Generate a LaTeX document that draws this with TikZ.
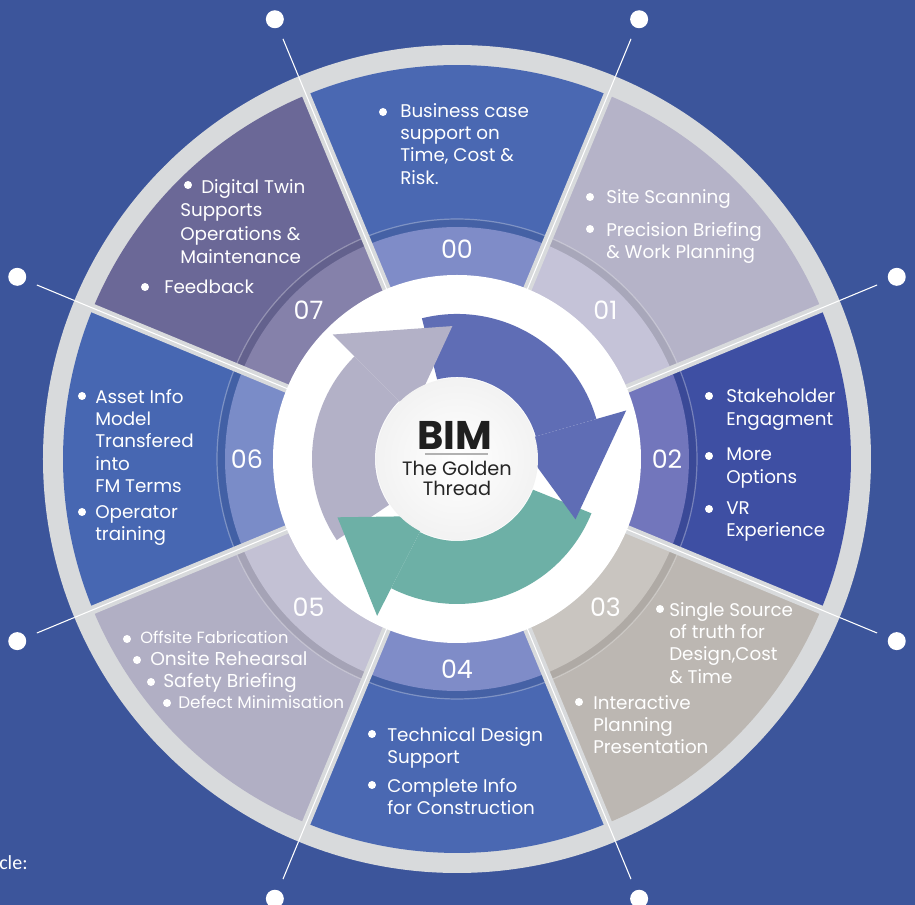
\documentclass[tikz,border=0pt]{standalone}
\usepackage{fontspec}
\setmainfont{Poppins}
\newfontfamily\capfont{Carlito}

% sector colours (outer part / inner number band)
\definecolor{bg}{HTML}{3C559B}
\definecolor{ringgray}{HTML}{D8DADC}
\definecolor{s0}{HTML}{4A68B2}\definecolor{b0}{HTML}{7F8CC8}
\definecolor{s1}{HTML}{B5B3C8}\definecolor{b1}{HTML}{C5C3D8}
\definecolor{s2}{HTML}{3E4FA3}\definecolor{b2}{HTML}{7276BC}
\definecolor{s3}{HTML}{BCB7B2}\definecolor{b3}{HTML}{C9C5C0}
\definecolor{s4}{HTML}{4A68B2}\definecolor{b4}{HTML}{7F8CC8}
\definecolor{s5}{HTML}{B1AFC4}\definecolor{b5}{HTML}{C3C1D4}
\definecolor{s6}{HTML}{4767B2}\definecolor{b6}{HTML}{7A8CC8}
\definecolor{s7}{HTML}{6B6897}\definecolor{b7}{HTML}{8581AA}
% cycle arrows
\definecolor{arrblue}{HTML}{5F6DB5}
\definecolor{arrgreen}{HTML}{6DB0A6}
\definecolor{arrgray}{HTML}{B3B1C7}

\newcommand{\bul}[2]{\fill[white] (#1,#2) circle[radius=4];}

\begin{document}
\begin{tikzpicture}[x=0.75pt,y=0.75pt,
  txt/.style={text=white, align=left, anchor=north west, inner sep=0pt,
    font=\fontsize{13.75}{16.75}\selectfont},
  num/.style={text=white, font=\fontsize{19}{19}\selectfont},
  dot/.style={circle, fill=white, minimum size=13.5pt, inner sep=0pt}]

\useasboundingbox (-457,-446) rectangle (458,459);
\fill[bg] (-457,-446) rectangle (458,459);

% outer grey ring
\fill[ringgray] (0,0) circle[radius=414];

% the eight sectors, 00 at the top, going clockwise
\foreach \k in {0,...,7} {
  \pgfmathsetmacro\a{67.5-45*\k}
  \fill[s\k] (0,0) -- (\a:394) arc[start angle=\a, end angle=\a+45, radius=394] -- cycle;
  \fill[s\k!93!black] (0,0) -- (\a:240) arc[start angle=\a, end angle=\a+45, radius=240] -- cycle;
  \fill[b\k] (0,0) -- (\a:232) arc[start angle=\a, end angle=\a+45, radius=232] -- cycle;
  \draw[white, opacity=0.3, line width=0.9pt] (\a:240) arc[start angle=\a, end angle=\a+45, radius=240];
}

% separators
\foreach \a in {22.5,67.5,...,337.5} {
  \draw[ringgray, line width=6.5pt] (\a:180) -- (\a:400);
  \draw[white, line width=0.8pt] (\a:184) -- (\a:414);
}

% leader lines and dots
\foreach \i in {0,...,7} {
  \pgfmathsetmacro\a{22.5+45*\i}
  \node[dot] (d\i) at (\a:476) {};
  \coordinate (e\i) at (\a:414);
  \draw[white, line width=0.8pt, shorten >=9pt] (e\i) -- (d\i);
}

% white hub
\fill[white] (0,0) circle[radius=184];

% cycle arrows: colour/start/base/tip
\foreach \c/\s/\b/\t in {arrblue/104/16/-27, arrgreen/-22/-117/-154, arrgray/-146/-225/-268} {
  \fill[\c] (\s:145) arc[start angle=\s, end angle=\b, radius=145]
    -- (\b:82) arc[start angle=\b, end angle=\s, radius=82] -- cycle;
}
\foreach \c/\b/\t in {arrblue/16/-27, arrgreen/-117/-154, arrgray/-225/-268} {
  \fill[\c] (\b:176) -- (\t:133) -- (\b:64) -- cycle;
}

% centre
\shade[inner color=white, outer color=black!5] (0,0) circle[radius=81];
\node[font=\fontsize{30}{30}\selectfont\bfseries, text=black!88] (bim) at (-2,24) {BIM};
\draw[black!30, line width=0.8pt] (-32,5) -- (31,5);
\node[font=\fontsize{14.5}{15}\selectfont, text=black!85, align=center] (gold) at (0,-19) {The Golden\\Thread};

% numbers
\foreach \k in {0,...,7} {
  \node[num] (n\k) at ({90-45*\k}:210) {0\k};
}

% 00
\bul{-74}{347}
\node[txt] (t00) at (-57,356) {Business case\\support on\\Time, Cost \&\\Risk.};
% 01
\bul{133}{262}
\node[txt] (t01a) at (149,270) {Site Scanning};
\bul{133}{230}
\node[txt] (t01b) at (149,237) {Precision Briefing\\\& Work Planning};
% 02
\bul{252}{63}
\node[txt] (t02a) at (269,70) {Stakeholder\\Engagment};
\bul{252}{3}
\node[txt] (t02b) at (269,11) {More\\Options};
\bul{252}{-50}
\node[txt] (t02c) at (269,-42) {VR\\Experience};
% 03
\bul{203}{-150}
\node[txt] (t03a) at (212,-143) {Single Source\\of truth for\\Design,Cost\\\& Time};
\bul{122}{-243}
\node[txt] (t03b) at (136,-236) {Interactive\\Planning\\Presentation};
% 04
\bul{-85}{-275}
\node[txt] (t04a) at (-70,-268) {Technical Design\\Support};
\bul{-85}{-326}
\node[txt] (t04b) at (-70,-319) {Complete Info\\for Construction};
% 05
\bul{-330}{-180}
\node[txt, font=\fontsize{12.2}{14}\selectfont] (t05a) at (-317,-172) {Offsite Fabrication};
\bul{-320}{-201}
\node[txt, font=\fontsize{14}{16}\selectfont] (t05b) at (-307,-192) {Onsite Rehearsal};
\bul{-306}{-223}
\node[txt, font=\fontsize{14}{16}\selectfont] (t05c) at (-294,-214) {Safety Briefing};
\bul{-290}{-244}
\node[txt, font=\fontsize{12.6}{14}\selectfont] (t05d) at (-279,-236) {Defect Minimisation};
% 06
\bul{-375}{63}
\node[txt] (t06a) at (-362,70) {Asset Info\\Model\\Transfered\\into\\FM Terms};
\bul{-375}{-53}
\node[txt] (t06b) at (-362,-46) {Operator\\training};
% 07
\bul{-269}{274}
\node[txt, font=\fontsize{13.75}{17.6}\selectfont] (t07a) at (-277,280) {\hspace{15.75pt}Digital Twin\\Supports\\Operations \&\\Maintenance};
\bul{-312}{172}
\node[txt] (t07b) at (-293,179) {Feedback};

% cut-off caption
\node[font=\capfont\fontsize{15}{15}\selectfont, text=white, anchor=west, inner sep=0pt] (cyc) at (-458,-404) {cle:};

\end{tikzpicture}
\end{document}
